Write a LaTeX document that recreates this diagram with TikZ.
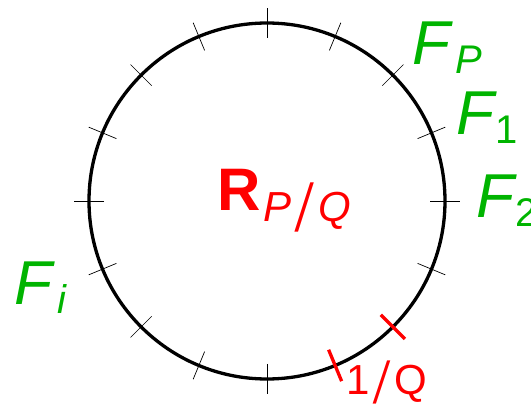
\documentclass[tikz,border=0pt]{standalone}
\usepackage{fontspec}
\usepackage{graphicx}
\setmainfont{Liberation Sans}
\usetikzlibrary{calc}
\definecolor{fgreen}{RGB}{0,180,0}
\definecolor{fred}{RGB}{255,0,0}
\tikzset{
  ring/.style={line width=3.3pt, black},
  tickmark/.style={line width=0.7pt, black},
  redtick/.style={line width=3.3pt, fred},
  flabel/.style={anchor=base west, inner sep=0pt, text=fgreen, font=\fontsize{62}{62}\selectfont\itshape},
  rlabel/.style={anchor=base west, inner sep=0pt, text=fred},
}
\newcommand{\subtxt}[1]{\raisebox{-9pt}{\fontsize{40}{40}\selectfont #1}}
\newcommand{\tallslash}[3]{\raisebox{-#3}{\itshape\scalebox{#1}[#2]{/}}}
\begin{document}
\begin{tikzpicture}[x=1pt,y=-1pt]
\useasboundingbox (0,0) rectangle (531,406);
\coordinate (c) at (267,201);
\draw[ring] (c) circle[radius=178];
\foreach \a in {0,22.5,...,337.5} {
  \draw[tickmark] ($(c)+(\a:163)$) -- ($(c)+(\a:193)$);
}
\foreach \a in {45,67.5} {
  \draw[redtick] ($(c)+(\a:161)$) -- ($(c)+(\a:195)$);
}
\node[flabel] (fp) at (412,65) {F\kern5pt\subtxt{P}};
\node[flabel] (f1) at (456,135) {F\kern1pt\subtxt{\upshape 1}};
\node[flabel] (f2) at (476,218) {F\kern1pt\subtxt{\upshape 2}};
\node[flabel] (fi) at (14,305) {F\kern5pt\subtxt{i}};
\node[rlabel] (r) at (217,211) {\fontsize{60}{60}\selectfont\bfseries R\kern3pt\raisebox{-11pt}{\fontsize{42}{42}\selectfont\mdseries\itshape P\kern6pt\tallslash{1.1}{1.6}{10pt}\kern8pt Q}};
\node[rlabel] (q) at (346,395) {\fontsize{42}{42}\selectfont 1\kern6pt\tallslash{1.0}{1.4}{9pt}\kern7pt Q};
\end{tikzpicture}
\end{document}
